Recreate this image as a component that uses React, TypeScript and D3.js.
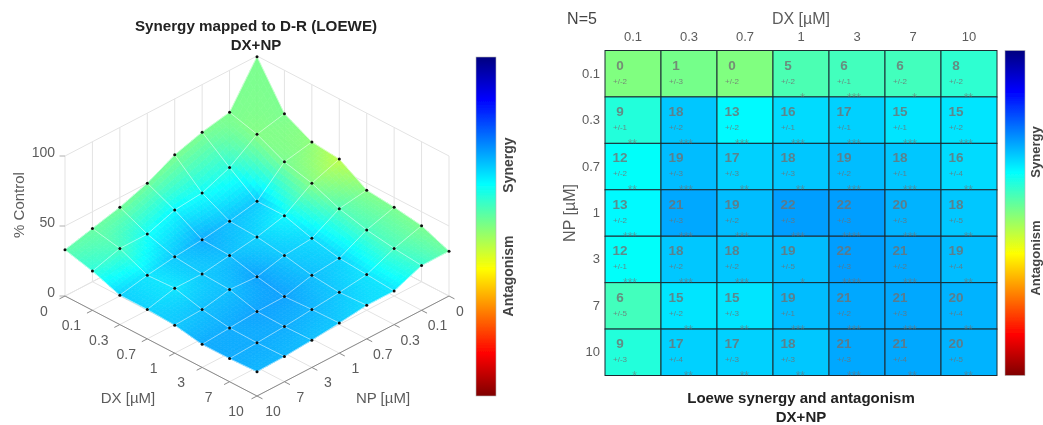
import React from 'react'
import * as d3 from 'd3'

const doses = ['0.1', '0.3', '0.7', '1', '3', '7', '10']
const surfaceDoses = ['0', ...doses]
const zTicks = [0, 50, 100]

// heat map, rows are NP and columns are DX
const synergyMean = [
  [0, 1, 0, 5, 6, 6, 8],
  [9, 18, 13, 16, 17, 15, 15],
  [12, 19, 17, 18, 19, 18, 16],
  [13, 21, 19, 22, 22, 20, 18],
  [12, 18, 18, 19, 22, 21, 19],
  [6, 15, 15, 19, 21, 21, 20],
  [9, 17, 17, 18, 21, 21, 20]
]
const synergyError = [
  [2, 3, 2, 2, 1, 2, 2],
  [1, 2, 2, 1, 1, 1, 2],
  [2, 3, 3, 3, 2, 1, 4],
  [2, 3, 2, 3, 3, 3, 5],
  [1, 2, 2, 5, 3, 2, 4],
  [5, 2, 3, 1, 2, 3, 4],
  [3, 4, 3, 3, 3, 4, 5]
]
const synergyStars = [
  ['', '', '', '*', '***', '*', '**'],
  ['**', '***', '***', '***', '***', '***', '***'],
  ['**', '***', '**', '**', '***', '***', '**'],
  ['***', '***', '***', '***', '****', '***', '**'],
  ['***', '***', '***', '*', '****', '***', '**'],
  ['', '**', '**', '***', '***', '***', '**'],
  ['*', '**', '**', '**', '***', '**', '**']
]

// surface height, rows are DX and columns are NP (dose 0 first)
const surfaceControl = [
  [99.5, 70, 66, 60, 50, 43, 38, 33],
  [69, 64.5, 51, 43, 41, 34, 34, 28],
  [59, 55, 37, 33, 30, 28, 25, 21],
  [57, 50, 37, 32, 29, 26, 26, 21],
  [45, 42, 31, 29, 24, 25, 21, 20],
  [43, 37, 27, 25, 20, 19.5, 18, 16.5],
  [40, 34, 25.5, 23, 21, 19, 17.6, 16.5],
  [32, 32, 24, 24, 21.5, 19.5, 18, 17.4]
]
// surface colour along the two single drug edges
const edgeSynergyNp = [1, 1, 1, 1, 2, 2, 3, 4]
const edgeSynergyDx = [1, 1, -1, -6, 0, 1, 1, 3]

const surfaceSynergy = surfaceDoses.map((_, i) =>
  surfaceDoses.map((_, j) => {
    if (i === 0) return edgeSynergyNp[j]
    if (j === 0) return edgeSynergyDx[i]
    return synergyMean[j - 1][i - 1]
  })
)

const jetStops = [0, 0.125, 0.375, 0.625, 0.875, 1]
const jetColors = ['#00007f', '#0000ff', '#00ffff', '#ffff00', '#ff0000', '#7f0000']
const jet = d3.scaleLinear<string>().domain(jetStops).range(jetColors)
const synergyToJet = d3.scaleLinear().domain([50, -50]).range([0, 1])
const colorOf = (v: number) => jet(synergyToJet(v))

// oblique projection of the 3d box
const stepX = d3.scaleLinear().domain([-7, 7]).range([65, 449])
const stepY = d3.scaleLinear().domain([0, 14]).range([196, 396])
const zPx = d3.scaleLinear().domain([0, 100]).range([0, 140])
const project = (i: number, j: number, z: number): [number, number] => [
  stepX(i - j),
  stepY(i + j) - zPx(z)
]
const line = d3.line()

const textColor = '#5c5c5c'
const font = 'Liberation Sans, Arial, sans-serif'
const n = 7

function Surface() {
  const sub = 8
  const polys: { d: string; fill: string }[] = []
  const order = d3.range(n * n).map((k) => [Math.floor(k / n), k % n])
  order.sort((a, b) => a[0] + a[1] - b[0] - b[1])
  order.forEach(([i, j]) => {
    const bi = (g: number[][], u: number, v: number) =>
      g[i][j] * (1 - u) * (1 - v) + g[i + 1][j] * u * (1 - v) + g[i][j + 1] * (1 - u) * v + g[i + 1][j + 1] * u * v
    d3.range(sub).forEach((a) => {
      d3.range(sub).forEach((b) => {
        const corners = [[a, b], [a + 1, b], [a + 1, b + 1], [a, b + 1]].map(([p, q]) => {
          const u = p / sub
          const v = q / sub
          return project(i + u, j + v, bi(surfaceControl, u, v))
        })
        polys.push({
          d: line(corners) + 'Z',
          fill: colorOf(bi(surfaceSynergy, (a + 0.5) / sub, (b + 0.5) / sub))
        })
      })
    })
  })
  const idx = d3.range(n + 1)
  return (
    <g>
      <g opacity={0.94}>
        {polys.map((p, k) => (
          <path key={k} d={p.d} fill={p.fill} stroke={p.fill} strokeWidth={0.7} />
        ))}
      </g>
      {idx.map((i) => (
        <path
          key={'a' + i}
          d={line(idx.map((j) => project(i, j, surfaceControl[i][j]))) || ''}
          fill="none"
          stroke="#fff"
          strokeOpacity={0.5}
          strokeWidth={1}
        />
      ))}
      {idx.map((j) => (
        <path
          key={'b' + j}
          d={line(idx.map((i) => project(i, j, surfaceControl[i][j]))) || ''}
          fill="none"
          stroke="#fff"
          strokeOpacity={0.5}
          strokeWidth={1}
        />
      ))}
      {idx.flatMap((i) =>
        idx.map((j) => {
          const [x, y] = project(i, j, surfaceControl[i][j])
          return <circle key={i + '-' + j} cx={x} cy={y} r={1.5} fill="#111" />
        })
      )}
    </g>
  )
}

function Box() {
  const idx = d3.range(n + 1)
  const seg = (a: [number, number], b: [number, number]) => line([a, b]) || ''
  const wall = '#e3e3e3'
  const axis = '#8a8a8a'
  return (
    <g fill="none" strokeWidth={1}>
      {idx.map((k) => (
        <g key={k} stroke={wall}>
          <path d={seg(project(0, k, 0), project(0, k, 100))} />
          <path d={seg(project(k, 0, 0), project(k, 0, 100))} />
          <path d={seg(project(0, k, 0), project(n, k, 0))} />
          <path d={seg(project(k, 0, 0), project(k, n, 0))} />
        </g>
      ))}
      {zTicks.map((z) => (
        <g key={z} stroke={wall}>
          <path d={seg(project(0, 0, z), project(0, n, z))} />
          <path d={seg(project(0, 0, z), project(n, 0, z))} />
          <path d={seg(project(0, n, z), project(-0.1, n + 0.1, z))} stroke="#b0b0b0" />
        </g>
      ))}
      <path d={seg(project(0, n, 0), project(n, n, 0))} stroke={axis} />
      <path d={seg(project(n, 0, 0), project(n, n, 0))} stroke={axis} />
      {idx.map((k) => (
        <g key={k} stroke={axis}>
          <path d={seg(project(k, n, 0), project(k, n + 0.2, 0))} />
          <path d={seg(project(n, k, 0), project(n + 0.2, k, 0))} />
        </g>
      ))}
    </g>
  )
}

function Colorbar({ id, x, y, w, h, sy, ay, labelX, size }: { id: string; x: number; y: number; w: number; h: number; sy: number; ay: number; labelX: number; size: number }) {
  return (
    <g>
      <linearGradient id={id} x1="0" y1="0" x2="0" y2="1">
        {jetStops.map((s, k) => (
          <stop key={s} offset={s} stopColor={jetColors[k]} />
        ))}
      </linearGradient>
      <rect x={x} y={y} width={w} height={h} fill={`url(#${id})`} stroke="#b5b5b5" strokeWidth={0.6} />
      {[
        ['Synergy', sy],
        ['Antagonism', ay]
      ].map(([t, c]) => (
        <text
          key={t as string}
          transform={`translate(${labelX},${c}) rotate(-90)`}
          textAnchor="middle"
          fontSize={size}
          fontWeight="bold"
          fill="#444"
        >
          {t}
        </text>
      ))}
    </g>
  )
}

function LeftPanel() {
  return (
    <g>
      <text x={256} y={31} textAnchor="middle" fontSize={15.2} fontWeight="bold" fill="#222">
        Synergy mapped to D-R (LOEWE)
      </text>
      <text x={256} y={50} textAnchor="middle" fontSize={15} fontWeight="bold" fill="#222">
        DX+NP
      </text>
      <Box />
      <Surface />
      <g fill={textColor} fontSize={14}>
        {zTicks.map((z) => {
          const [, y] = project(0, n, z)
          return (
            <text key={z} x={55} y={y + 1} textAnchor="end">
              {z}
            </text>
          )
        })}
        {surfaceDoses.map((d, k) => {
          const [lx, ly] = project(k, n, 0)
          const [rx, ry] = project(n, k, 0)
          return (
            <g key={d} textAnchor="middle">
              <text x={lx - 21} y={ly + 20}>{d}</text>
              <text x={rx + (k === 0 ? 11 : 16)} y={ry + 20}>{d}</text>
            </g>
          )
        })}
        <text transform="translate(24,205) rotate(-90)" textAnchor="middle" fontSize={15}>% Control</text>
        <text x={128} y={403} textAnchor="middle" fontSize={15}>DX [µM]</text>
        <text x={383} y={403} textAnchor="middle" fontSize={15}>NP [µM]</text>
      </g>
      <Colorbar id="barLeft" x={476} y={57} w={20} h={339} sy={165} ay={276} labelX={513} size={14} />
    </g>
  )
}

function RightPanel() {
  const x = d3.scaleBand<string>().domain(doses).range([605, 997])
  const y = d3.scaleBand<string>().domain(doses).range([50.5, 375.5])
  return (
    <g>
      <text x={582} y={24} textAnchor="middle" fontSize={16} fill="#444">N=5</text>
      <text x={801} y={24} textAnchor="middle" fontSize={16} fill={textColor}>DX [µM]</text>
      <text transform="translate(575,213) rotate(-90)" textAnchor="middle" fontSize={16} fill={textColor}>NP [µM]</text>
      {doses.map((d) => (
        <text key={d} x={x(d)! + x.bandwidth() / 2} y={41} textAnchor="middle" fontSize={13} fill={textColor}>
          {d}
        </text>
      ))}
      {doses.map((d) => (
        <text key={d} x={600} y={y(d)! + y.bandwidth() / 2 + 4} textAnchor="end" fontSize={13} fill={textColor}>
          {d}
        </text>
      ))}
      {doses.map((np, r) =>
        doses.map((dx, c) => (
          <rect
            key={np + dx}
            x={x(dx)}
            y={y(np)}
            width={x.bandwidth()}
            height={y.bandwidth()}
            fill={colorOf(synergyMean[r][c])}
            stroke="#1b2a33"
            strokeWidth={1}
          />
        ))
      )}
      {doses.map((np, r) =>
        doses.map((dx, c) => {
          const cx = x(dx)!
          const cy = y(np)!
          return (
            <g key={np + dx} fill="#707070" fillOpacity={0.8}>
              <text x={cx + 15} y={cy + 19} textAnchor="middle" fontSize={13.5} fontWeight="bold">
                {synergyMean[r][c]}
              </text>
              <text x={cx + 15} y={cy + 33} textAnchor="middle" fontSize={8}>
                {'+/-' + synergyError[r][c]}
              </text>
              <text x={cx + 32} y={cy + 51} textAnchor="end" fontSize={12} fillOpacity={0.6}>
                {synergyStars[r][c]}
              </text>
            </g>
          )
        })
      )}
      <text x={801} y={403} textAnchor="middle" fontSize={15} fontWeight="bold" fill="#222">
        Loewe synergy and antagonism
      </text>
      <text x={801} y={422} textAnchor="middle" fontSize={15} fontWeight="bold" fill="#222">
        DX+NP
      </text>
      <Colorbar id="barRight" x={1005} y={50.5} w={20} h={325} sy={152} ay={258} labelX={1039.5} size={13} />
    </g>
  )
}

export default function App() {
  return (
    <svg
      width={1043}
      height={425}
      style={{ position: 'fixed', left: 0, top: 0, background: '#fff' }}
      fontFamily={font}
    >
      <filter id="soft" x="0" y="0" width="100%" height="100%">
        <feGaussianBlur stdDeviation={0.45} />
      </filter>
      <g filter="url(#soft)">
        <LeftPanel />
        <RightPanel />
      </g>
    </svg>
  )
}
